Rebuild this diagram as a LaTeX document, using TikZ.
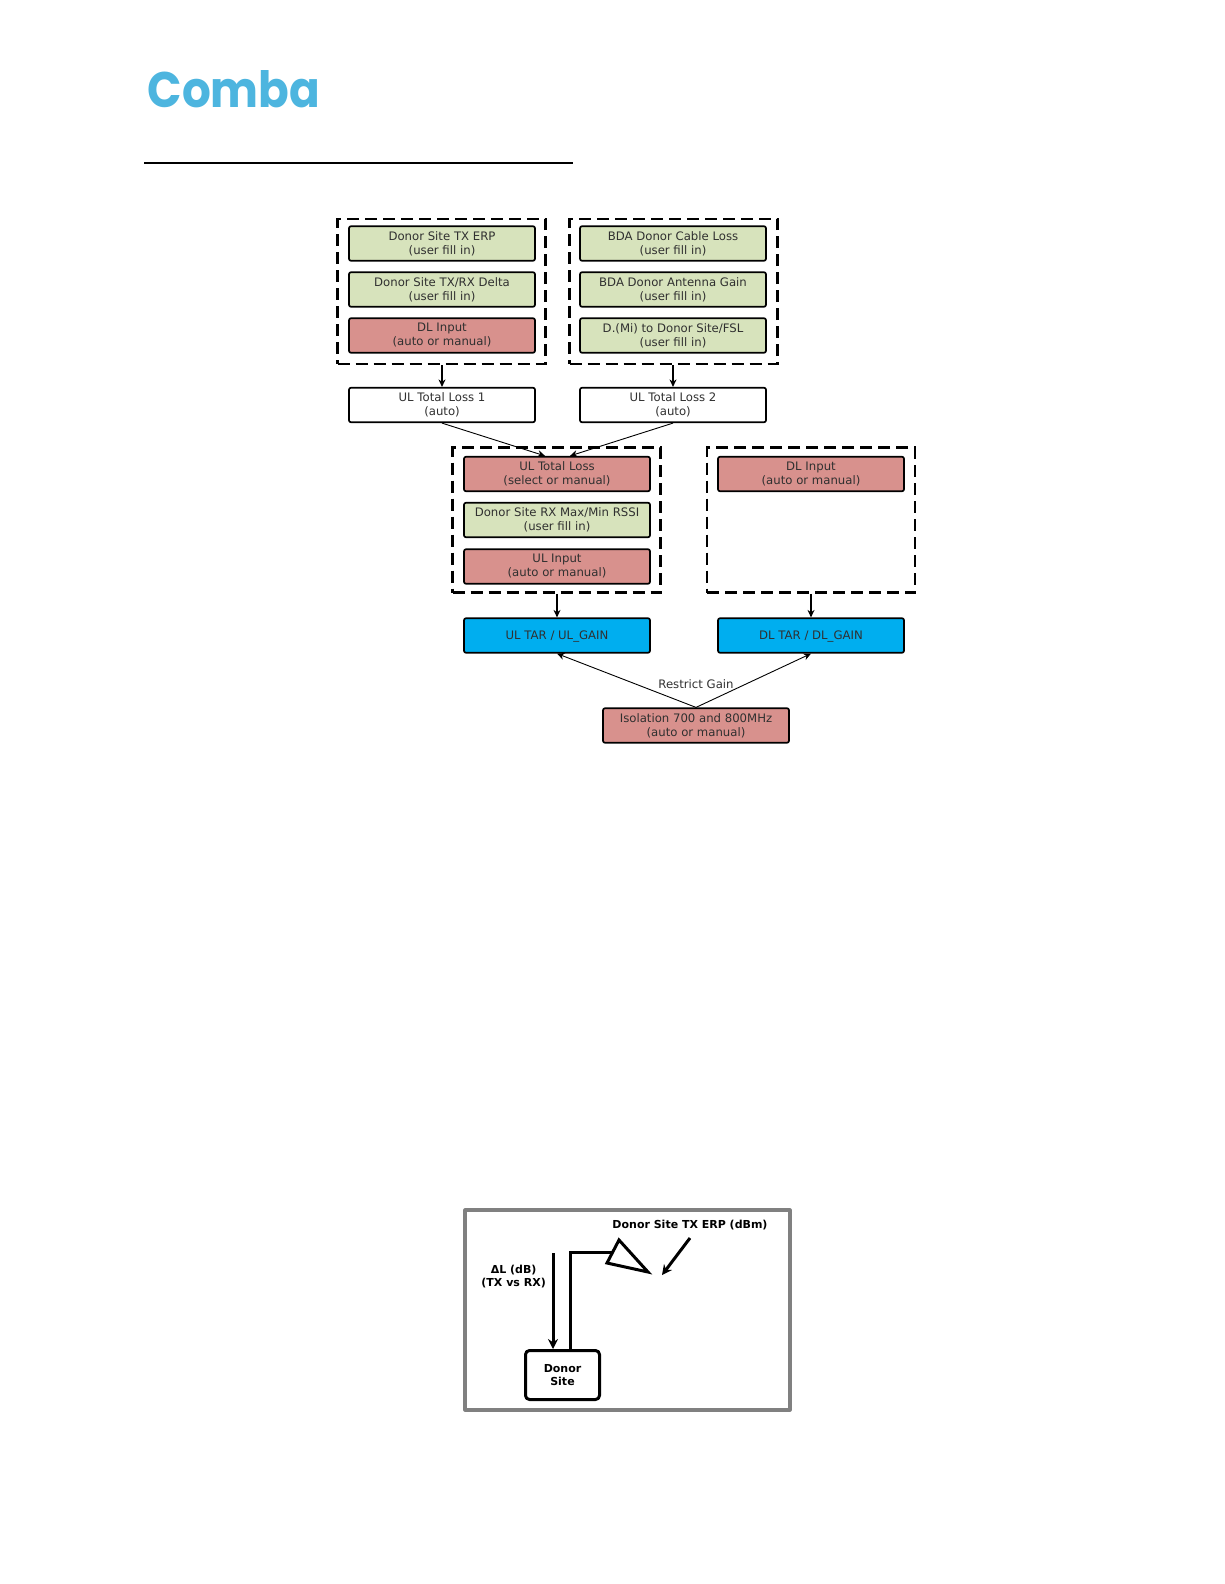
\documentclass[tikz,border=0pt]{standalone}
\usepackage{fontspec}
\usetikzlibrary{arrows.meta}
\setmainfont{DejaVu Sans}
\newfontfamily\logofont{Poppins}
\definecolor{boxgreen}{HTML}{D7E3BC}
\definecolor{boxred}{HTML}{D8918D}
\definecolor{boxblue}{HTML}{00AEEF}
\definecolor{logoblue}{HTML}{4DB5DF}
\definecolor{framegray}{HTML}{808080}
\definecolor{textgray}{HTML}{303030}
\begin{document}
\begin{tikzpicture}[x=1pt,y=-1pt,line join=round,>={Stealth[length=7.5pt,width=7pt]},
	box/.style={draw=black,line width=1.7pt,rounded corners=2pt,minimum width=186pt,minimum height=34.5pt,inner sep=0pt,align=center,text=textgray,font=\fontsize{11.7}{14}\selectfont},
	green/.style={box,fill=boxgreen},
	red/.style={box,fill=boxred},
	blue/.style={box,fill=boxblue,text depth=0pt},
	blank/.style={box,fill=white},
	group/.style={draw=black,line width=2.5pt,dash pattern=on 12pt off 6pt,line join=miter,minimum width=208pt,minimum height=145pt,inner sep=0pt},
	link/.style={->,line width=1.2pt,black},
	thin link/.style={->,line width=.9pt,black},
	bold text/.style={inner sep=0pt,align=center,font=\fontsize{11}{13}\selectfont\bfseries}]
	\useasboundingbox (0,0) rectangle (1224,1584);
	% header
	\node[inner sep=0pt,text=logoblue,xscale=.905] (logo) at (234,89) {\logofont\fontsize{50}{50}\selectfont\bfseries Comba};
	\coordinate (ruleL) at (144,163);
	\coordinate (ruleR) at (573,163);
	\draw[line width=2pt] (ruleL) -- (ruleR);
	% dashed groups
	\node[group] (groupA) at (441.5,291.5) {};
	\node[group] (groupB) at (673.5,291.5) {};
	\node[group] (groupC) at (556.5,520) {};
	\node[group] (groupD) at (811,520) {};
	% first row
	\node[green] (erp) at (442,243.5) {Donor Site TX ERP\\(user fill in)};
	\node[green] (delta) at (442,289.5) {Donor Site TX/RX Delta\\(user fill in)};
	\node[red] (dlA) at (442,335.5) {DL Input\\(auto or manual)};
	\node[green] (cable) at (673,243.5) {BDA Donor Cable Loss\\(user fill in)};
	\node[green] (gain) at (673,289.5) {BDA Donor Antenna Gain\\(user fill in)};
	\node[green] (fsl) at (673,335.5) {D.(Mi) to Donor Site/FSL\\(user fill in)};
	\node[blank] (lossA) at (442,405) {UL Total Loss 1\\(auto)};
	\node[blank] (lossB) at (673,405) {UL Total Loss 2\\(auto)};
	% second row
	\node[red] (loss) at (557,474) {UL Total Loss\\(select or manual)};
	\node[green] (rssi) at (557,520) {Donor Site RX Max/Min RSSI\\(user fill in)};
	\node[red] (ulin) at (557,566.5) {UL Input\\(auto or manual)};
	\node[red] (dlB) at (811,474) {DL Input\\(auto or manual)};
	\node[blue] (ultar) at (557,635.5) {UL TAR / UL\_GAIN};
	\node[blue] (dltar) at (811,635.5) {DL TAR / DL\_GAIN};
	\node[red] (iso) at (696,725.5) {Isolation 700 and 800MHz\\(auto or manual)};
	% arrows
	\draw[link] (groupA.south -| erp) -- (lossA);
	\draw[link] (groupB.south -| cable) -- (lossB);
	\draw[thin link] (lossA.south) -- (loss.north -| 545,0);
	\draw[thin link] (lossB.south) -- (loss.north -| 570,0);
	\draw[link] (groupC.south -| loss) -- (ultar);
	\draw[link] (groupD.south -| dlB) -- (dltar);
	\draw[thin link] (iso.north) -- (ultar.south);
	\draw[thin link] (iso.north) -- (dltar.south);
	\node[inner sep=0pt,text=textgray,font=\fontsize{11.7}{14}\selectfont] (restrict) at (696,684.5) {Restrict Gain};
	% lower picture
	\node[draw=framegray,line width=3.2pt,minimum width=325pt,minimum height=200pt,inner sep=0pt] (frame) at (627.5,1310) {};
	\node[draw=black,line width=3pt,rounded corners=4pt,minimum width=74pt,minimum height=49pt,inner sep=0pt,align=center,font=\fontsize{11}{13}\selectfont\bfseries] (site) at (562.5,1375) {Donor\\Site};
	\node[bold text] (erpText) at (690,1225.5) {Donor Site TX ERP (dBm)};
	\node[bold text,anchor=east] (deltaText) at (546,1277) {ΔL (dB)\\(TX vs RX)};
	\coordinate (deltaTop) at (553,1253);
	\coordinate (feedTop) at (570,1252);
	\coordinate (feedEnd) at (612,1252);
	\coordinate (pointFrom) at (690,1238);
	\coordinate (pointTo) at (662,1275);
	\draw[line width=3pt,->,>={Stealth[length=10pt,width=10pt]}] (deltaTop) -- (deltaTop |- site.north);
	\draw[line width=3pt,line join=miter] (feedTop |- site.north) -- (feedTop) -- (feedEnd);
	\draw[line width=3pt,line join=miter] (619,1240) -- (648,1272) -- (607,1263) -- cycle;
	\draw[line width=3pt,->,>={Stealth[length=10pt,width=10pt]}] (pointFrom) -- (pointTo);
\end{tikzpicture}
\end{document}
